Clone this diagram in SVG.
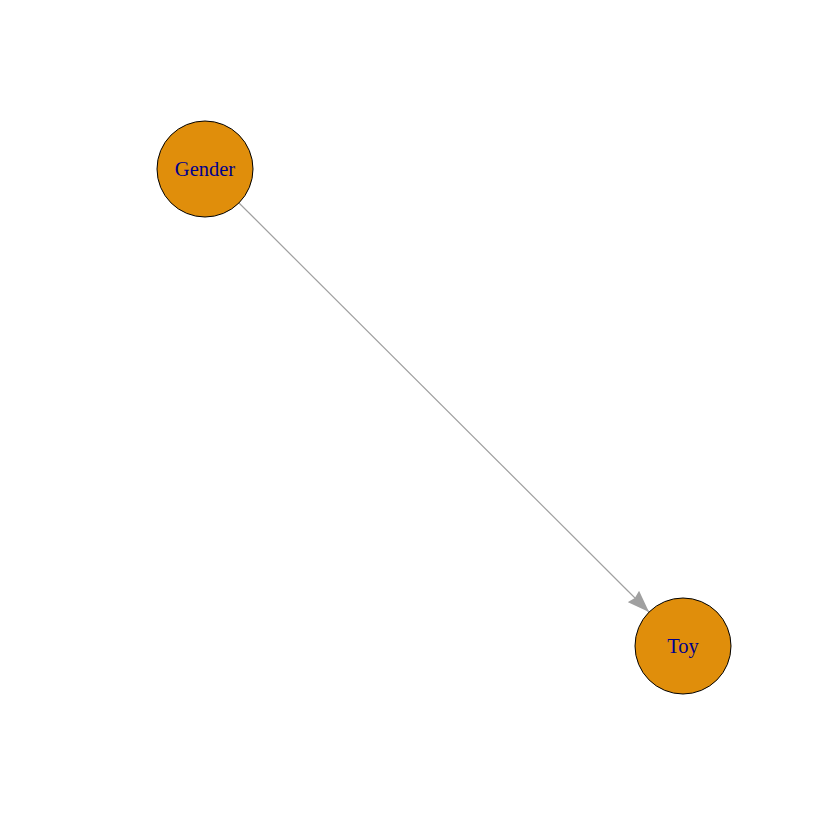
<svg xmlns="http://www.w3.org/2000/svg" width="840" height="840" viewBox="0 0 840 840">
<style>
.node circle{fill:#E08E0B;stroke:#000;stroke-width:1}
.node text{font-family:"Liberation Serif",serif;font-size:20.5px;fill:#00008B;text-anchor:middle;dominant-baseline:central}
.edge{stroke:#A0A0A0;stroke-width:1.2;fill:none}
</style>
<defs>
<marker id="arr" viewBox="0 0 22 16" refX="22" refY="8" markerWidth="22" markerHeight="16" markerUnits="userSpaceOnUse" orient="auto">
<path d="M0,0 L22,8 L0,16 L2,8 Z" fill="#A0A0A0"/>
</marker>
</defs>
<rect width="840" height="840" fill="#fff"/>
<g id="connectors">
<line class="edge" x1="239" y1="203" x2="649" y2="612" marker-end="url(#arr)"/>
</g>
<g id="node-gender" class="node">
<circle cx="205" cy="169" r="48"/>
<text x="205" y="169">Gender</text>
</g>
<g id="node-toy" class="node">
<circle cx="683" cy="646" r="48"/>
<text x="683" y="646">Toy</text>
</g>
</svg>
